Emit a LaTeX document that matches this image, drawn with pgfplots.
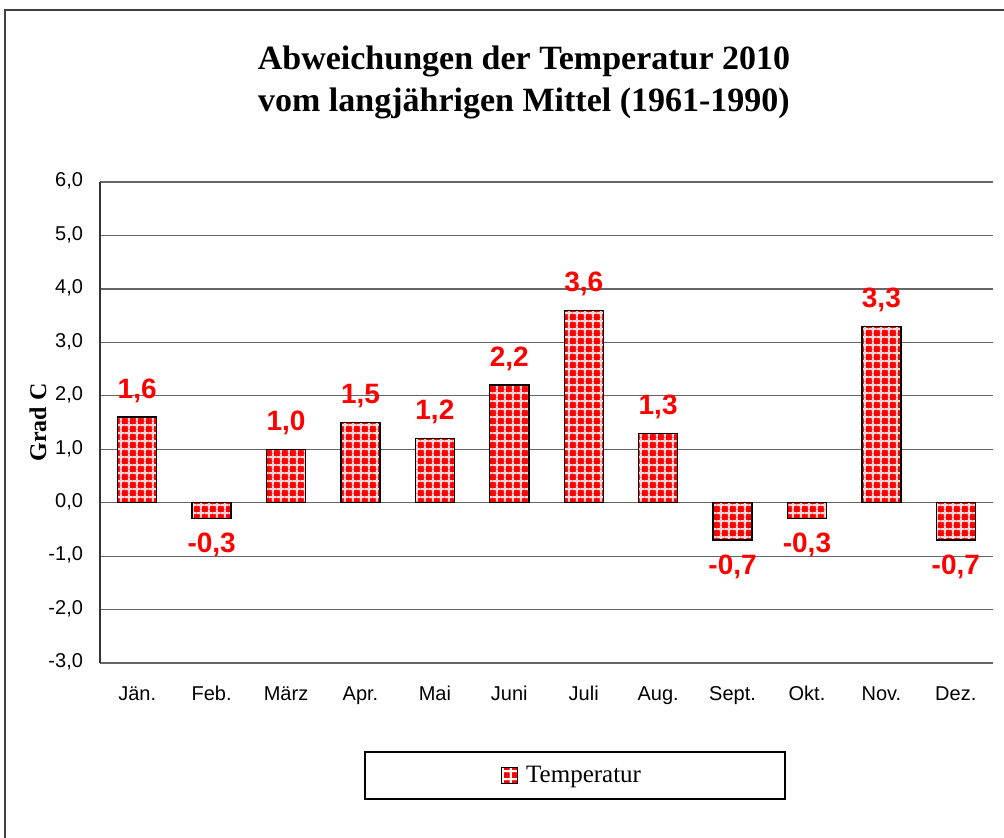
\documentclass[border=0pt]{standalone}
\usepackage{pgfplots}
\pgfplotsset{compat=1.18}
\usetikzlibrary{patterns}
\usepackage{fontspec}
\setmainfont{Liberation Serif}
\newfontfamily\arial{Liberation Sans}

% red fill with white grid lines, like the Excel pattern
\pgfdeclarepatternformonly{redgrid}{\pgfqpoint{0pt}{0pt}}{\pgfqpoint{3.9pt}{3.9pt}}{\pgfqpoint{3.9pt}{3.9pt}}{%
  \pgfsetlinewidth{1pt}%
  \pgfpathmoveto{\pgfqpoint{0pt}{1.95pt}}\pgfpathlineto{\pgfqpoint{3.9pt}{1.95pt}}%
  \pgfpathmoveto{\pgfqpoint{1.95pt}{0pt}}\pgfpathlineto{\pgfqpoint{1.95pt}{3.9pt}}%
  \pgfusepath{stroke}}

\begin{document}
\begin{tikzpicture}
\useasboundingbox (0,0) rectangle (502pt,-418.5pt);
\draw[line width=1pt, black!75] (2.5pt,-430pt) -- (2.5pt,-5pt) -- (520pt,-5pt);
\node[font=\bfseries\fontsize{17}{21}\selectfont, align=center] at (262pt,-41pt)
  {Abweichungen der Temperatur 2010\\vom langjährigen Mittel (1961-1990)};
\begin{axis}[
  at={(50pt,-331.5pt)}, anchor=south west,
  scale only axis, width=446.5pt, height=240.5pt,
  ybar, bar width=19.5pt, bar shift=0pt,
  xmin=-0.5, xmax=11.5, ymin=-3, ymax=6,
  xtick={0,...,11},
  xticklabels={Jän.,Feb.,März,Apr.,Mai,Juni,Juli,Aug.,Sept.,Okt.,Nov.,Dez.},
  ytick={-3,...,6},
  major tick length=0pt,
  axis x line*=bottom, axis y line*=left,
  axis line style={-},
  x axis line style={draw=none},
  y axis line style={black!80, line width=0.7pt},
  ymajorgrids, grid style={black!60, line width=0.6pt},
  /pgf/number format/.cd, use comma, fixed, fixed zerofill, precision=1, assume math mode=true,
  /pgfplots/.cd,
  ticklabel style={font=\arial\fontsize{10}{12}\selectfont},
  typeset ticklabels with strut,
  yticklabel style={xshift=-5pt},
  xticklabel style={yshift=-7pt},
  ylabel={Grad C},
  every axis y label/.style={at={(axis description cs:-0.0694,0.5)}, anchor=center,
    rotate=90, font=\bfseries\fontsize{12}{14}\selectfont},
  nodes near coords,
  every node near coord/.append style={font=\arial\bfseries\fontsize{14}{16}\selectfont, text=red, inner ysep=7pt},
  legend style={at={(0.532,-0.234)}, anchor=center, draw=black, line width=0.8pt,
    inner xsep=68pt, inner ysep=5pt, font=\fontsize{12.5}{14}\selectfont,
    nodes={inner xsep=4pt}},
  legend image code/.code={\draw[draw=black, line width=0.5pt, fill=red,
    postaction={pattern=redgrid, pattern color=white}] (1.5pt,-4pt) rectangle (9.5pt,4pt);},
]
\addplot[draw=black, line width=0.7pt, fill=red,
  postaction={pattern=redgrid, pattern color=white!85!red}] coordinates {
  (0,1.6) (1,-0.3) (2,1.0) (3,1.5) (4,1.2) (5,2.2)
  (6,3.6) (7,1.3) (8,-0.7) (9,-0.3) (10,3.3) (11,-0.7)
};
\legend{Temperatur}
\end{axis}
\end{tikzpicture}
\end{document}
